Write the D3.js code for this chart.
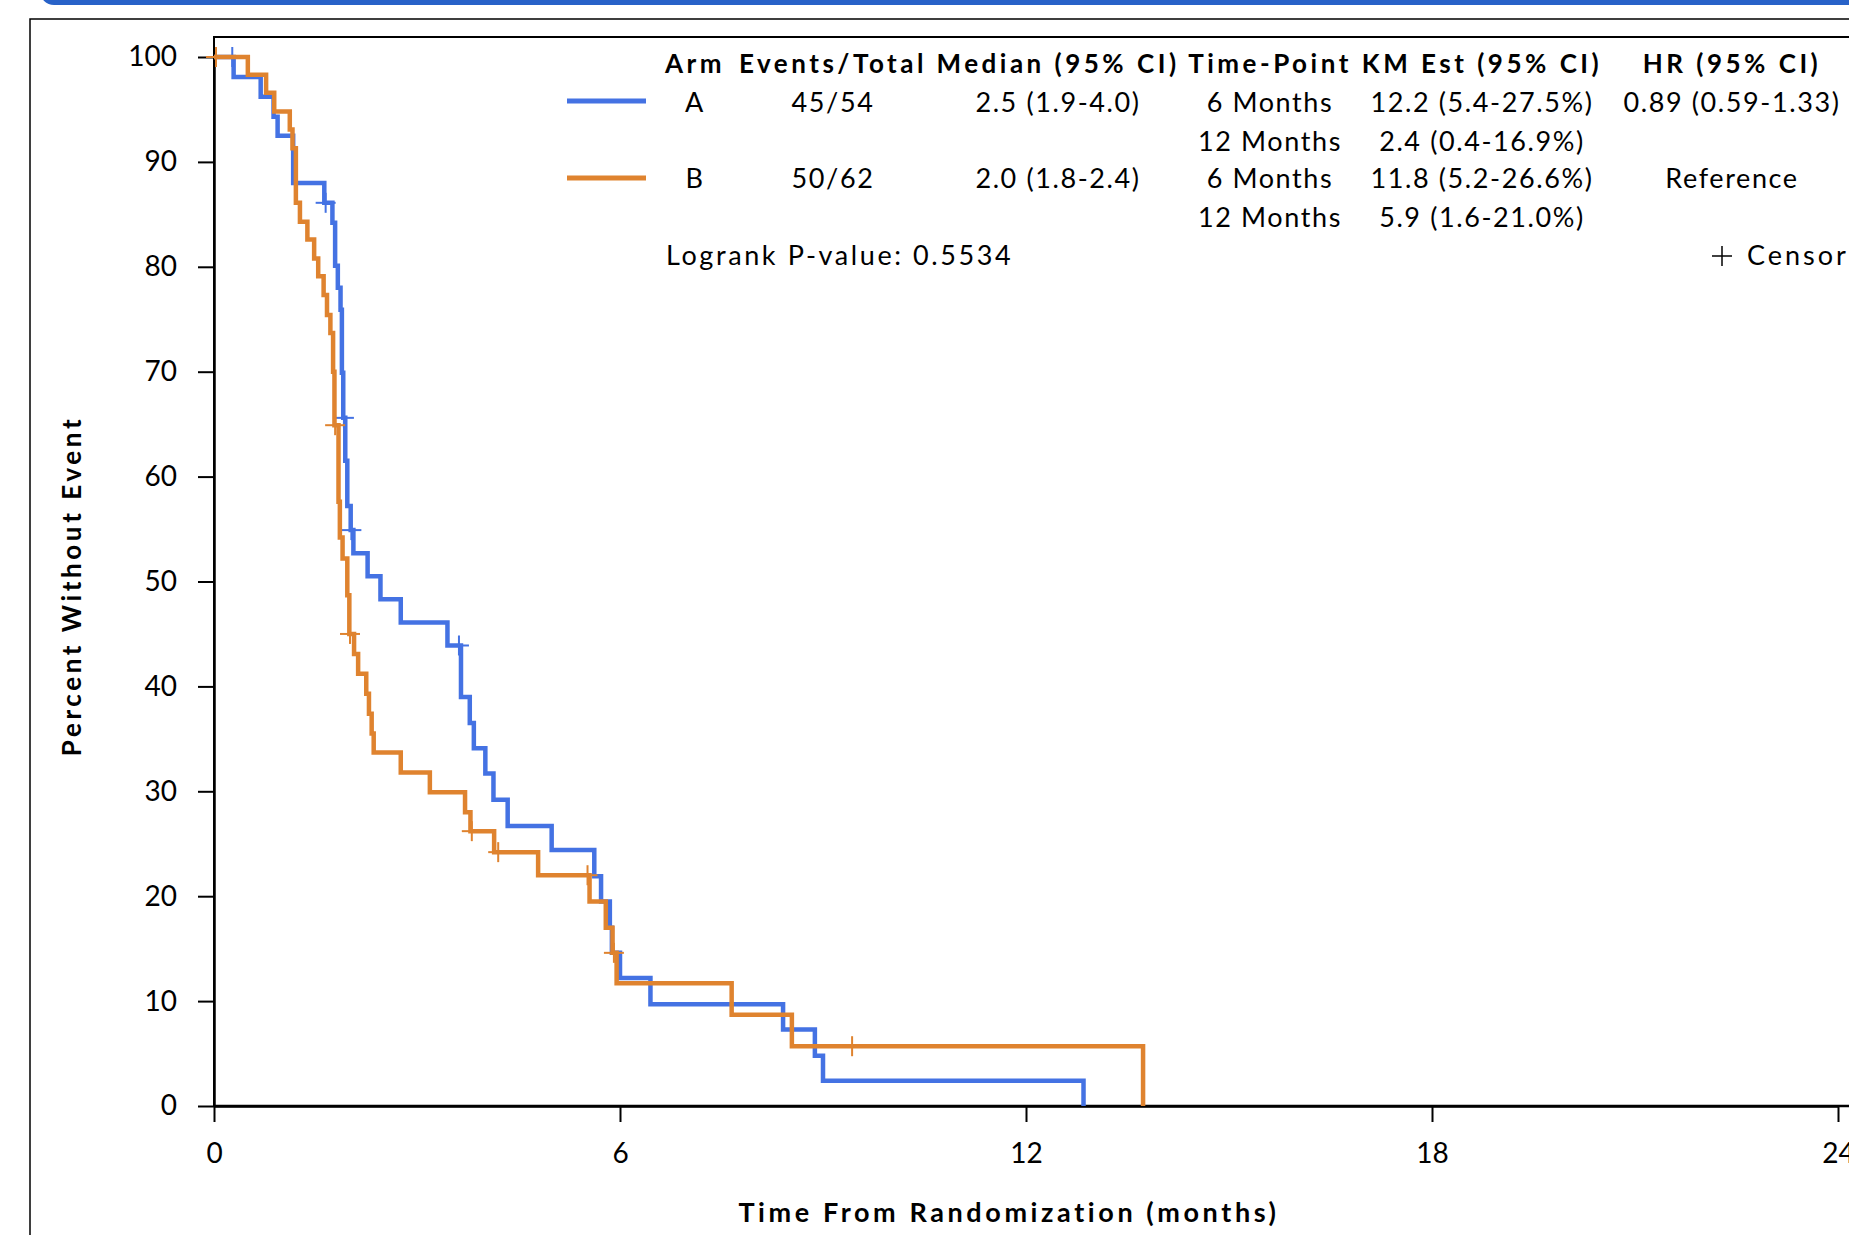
<!DOCTYPE html>
<html>
<head>
<meta charset="utf-8">
<script src="https://cdn.jsdelivr.net/npm/d3@7"></script>
<style>
body { margin:0; background:#ffffff; overflow:hidden; }
text { font-family: Lato, "Open Sans", sans-serif; fill:#000; }
</style>
</head>
<body>
<svg id="km"></svg>
<script>
// arm A (blue) step points: time in months, percent without event
var armATimes = [0, 0.29, 0.69, 0.88, 0.94, 1.17, 1.63, 1.75, 1.79, 1.83, 1.87, 1.89, 1.91, 1.94, 1.97,
    2.02, 2.06, 2.27, 2.46, 2.76, 3.45, 3.65, 3.78, 3.84, 4.01, 4.13, 4.34, 4.99, 5.62, 5.72,
    5.85, 5.88, 6.00, 6.45, 8.41, 8.88, 9.00, 12.85]
var armAValues = [100, 98.1, 96.2, 94.3, 92.5, 88.0, 86.1, 84.2, 80.1, 78.0, 75.9, 69.9, 65.6, 61.5, 57.2,
    54.9, 52.7, 50.5, 48.3, 46.1, 43.9, 39.0, 36.5, 34.1, 31.7, 29.2, 26.7, 24.4, 21.9, 19.5,
    17.0, 14.6, 12.2, 9.7, 7.3, 4.8, 2.4, 0]
var armACensorTimes = [0.27, 1.65, 1.92, 2.03, 3.62]
var armACensorValues = [100, 86.1, 65.6, 54.9, 43.9]

// arm B (orange)
var armBTimes = [0, 0.50, 0.77, 0.89, 1.12, 1.16, 1.21, 1.27, 1.38, 1.48, 1.54, 1.62, 1.67, 1.72, 1.76,
    1.78, 1.84, 1.86, 1.90, 1.97, 2.00, 2.07, 2.13, 2.25, 2.29, 2.33, 2.36, 2.76, 3.19, 3.71,
    3.79, 4.14, 4.79, 5.55, 5.79, 5.89, 5.95, 7.65, 8.54, 13.73]
var armBValues = [100, 98.3, 96.6, 94.8, 93.1, 91.3, 86.1, 84.3, 82.6, 80.8, 79.1, 77.3, 75.4, 73.7, 70.0,
    64.9, 57.6, 54.2, 52.2, 48.7, 45.0, 43.1, 41.2, 39.3, 37.4, 35.5, 33.7, 31.8, 29.9, 28.0,
    26.2, 24.2, 22.0, 19.5, 17.0, 14.6, 11.7, 8.7, 5.7, 0]
var armBCensorTimes = [0.03, 1.79, 2.01, 3.81, 4.20, 5.52, 5.91, 9.43]
var armBCensorValues = [100, 64.9, 45.0, 26.2, 24.2, 22.0, 14.6, 5.7]

var xTicks = [0, 6, 12, 18, 24]
var yTicks = [0, 10, 20, 30, 40, 50, 60, 70, 80, 90, 100]

var tableHeader = ["Arm", "Events/Total", "Median (95% CI)", "Time-Point", "KM Est (95% CI)", "HR (95% CI)"]
var tableRows = [
    ["A", "45/54", "2.5 (1.9-4.0)", "6 Months", "12.2 (5.4-27.5%)", "0.89 (0.59-1.33)"],
    ["", "", "", "12 Months", "2.4 (0.4-16.9%)", ""],
    ["B", "50/62", "2.0 (1.8-2.4)", "6 Months", "11.8 (5.2-26.6%)", "Reference"],
    ["", "", "", "12 Months", "5.9 (1.6-21.0%)", ""]
]
var logrankLabel = "Logrank P-value: 0.5534"
var censorLabel = "Censor"
var xTitle = "Time From Randomization (months)"
var yTitle = "Percent Without Event"

var blue = "#4472e3"
var orange = "#df832f"

var makePoints = function(times, values)
{
    return times.map(function(t, i) { return {t: t, v: values[i]} })
}

var drawCurve = function(svg, xScale, yScale, times, values, ctimes, cvalues, color)
{
    var lineGenerator = d3.line()
        .curve(d3.curveStepAfter)
        .x(function(d) { return xScale(d.t) })
        .y(function(d) { return yScale(d.v) })

    svg.append("path")
        .datum(makePoints(times, values))
        .attr("d", lineGenerator)
        .attr("fill", "none")
        .attr("stroke", color)
        .attr("stroke-width", 4.5)

    var marks = svg.append("g")
        .selectAll("g")
        .data(makePoints(ctimes, cvalues))
        .enter()
        .append("g")
        .attr("transform", function(d) { return "translate(" + xScale(d.t) + "," + yScale(d.v) + ")" })
    marks.append("line")
        .attr("x1", -10).attr("x2", 10)
        .attr("stroke", color).attr("stroke-width", 2)
    marks.append("line")
        .attr("y1", -10).attr("y2", 10)
        .attr("stroke", color).attr("stroke-width", 2)
}

var drawTable = function(svg)
{
    var colX = [695, 833, 1058, 1270, 1482, 1732]
    var rowY = [112, 151, 188, 227]

    svg.append("g")
        .selectAll("text")
        .data(tableHeader)
        .enter()
        .append("text")
        .attr("x", function(d, i) { return colX[i] })
        .attr("y", 73)
        .attr("text-anchor", "middle")
        .attr("font-size", 26)
        .attr("font-weight", "bold")
        .attr("letter-spacing", 3.5)
        .text(function(d) { return d })

    tableRows.forEach(function(row, r)
    {
        svg.append("g")
            .selectAll("text")
            .data(row)
            .enter()
            .append("text")
            .attr("x", function(d, i) { return colX[i] })
            .attr("y", rowY[r])
            .attr("text-anchor", "middle")
            .attr("font-size", 27)
            .attr("letter-spacing", 1.6)
            .text(function(d) { return d })
    })

    svg.append("line")
        .attr("x1", 567).attr("x2", 646).attr("y1", 101).attr("y2", 101)
        .attr("stroke", blue).attr("stroke-width", 5)
    svg.append("line")
        .attr("x1", 567).attr("x2", 646).attr("y1", 178).attr("y2", 178)
        .attr("stroke", orange).attr("stroke-width", 5)

    svg.append("text")
        .attr("x", 666).attr("y", 265)
        .attr("font-size", 27)
        .attr("letter-spacing", 2.6)
        .text(logrankLabel)

    svg.append("line")
        .attr("x1", 1712).attr("x2", 1732).attr("y1", 256).attr("y2", 256)
        .attr("stroke", "#000").attr("stroke-width", 1.5)
    svg.append("line")
        .attr("x1", 1722).attr("x2", 1722).attr("y1", 246).attr("y2", 266)
        .attr("stroke", "#000").attr("stroke-width", 1.5)
    svg.append("text")
        .attr("x", 1747).attr("y", 265)
        .attr("font-size", 27)
        .attr("letter-spacing", 3)
        .text(censorLabel)
}

var displayKM = function(target)
{
    var screen = {width: 1849, height: 1235}
    var plot = {left: 214, right: 1838, top: 57, bottom: 1106}

    var svg = d3.select(target)
        .attr("width", screen.width)
        .attr("height", screen.height)

    svg.append("rect")
        .attr("width", screen.width).attr("height", screen.height)
        .attr("fill", "#fff")

    // blue band and outer frame
    svg.append("rect")
        .attr("x", 40).attr("y", -40)
        .attr("width", 1900).attr("height", 45)
        .attr("rx", 14)
        .attr("fill", "#2862c8")
    svg.append("path")
        .attr("d", "M30,1240 V19 H1860")
        .attr("fill", "none")
        .attr("stroke", "#000")
        .attr("stroke-width", 1.5)

    var xScale = d3.scaleLinear()
        .domain([0, 24])
        .range([plot.left, plot.right])
    var yScale = d3.scaleLinear()
        .domain([0, 100])
        .range([plot.bottom, plot.top])

    // plot frame
    svg.append("path")
        .attr("d", "M" + plot.left + "," + plot.bottom + " V37 H1860")
        .attr("fill", "none")
        .attr("stroke", "#000")
        .attr("stroke-width", 2)
    svg.append("line")
        .attr("x1", plot.left).attr("x2", 1860)
        .attr("y1", plot.bottom).attr("y2", plot.bottom)
        .attr("stroke", "#000").attr("stroke-width", 2.5)

    var xAxis = d3.axisBottom(xScale)
        .tickValues(xTicks)
        .tickSize(16)
        .tickSizeOuter(0)
        .tickPadding(21)
    var yAxis = d3.axisLeft(yScale)
        .tickValues(yTicks)
        .tickSize(16)
        .tickSizeOuter(0)
        .tickPadding(21)

    var gx = svg.append("g")
        .attr("transform", "translate(0," + plot.bottom + ")")
        .call(xAxis)
    var gy = svg.append("g")
        .attr("transform", "translate(" + plot.left + ",0)")
        .call(yAxis)

    ;[gx, gy].forEach(function(g)
    {
        g.select(".domain").attr("stroke", "#000").attr("stroke-width", 2.5)
        g.selectAll(".tick line").attr("stroke", "#000").attr("stroke-width", 2)
        g.selectAll(".tick text")
            .attr("fill", "#000")
            .attr("font-size", 28)
            .attr("font-family", "Lato, 'Open Sans', sans-serif")
    })

    drawCurve(svg, xScale, yScale, armATimes, armAValues, armACensorTimes, armACensorValues, blue)
    drawCurve(svg, xScale, yScale, armBTimes, armBValues, armBCensorTimes, armBCensorValues, orange)

    svg.append("text")
        .attr("x", 1009).attr("y", 1222)
        .attr("text-anchor", "middle")
        .attr("font-size", 27)
        .attr("font-weight", "bold")
        .attr("letter-spacing", 3.6)
        .text(xTitle)

    svg.append("text")
        .attr("transform", "translate(81,586) rotate(-90)")
        .attr("text-anchor", "middle")
        .attr("font-size", 26)
        .attr("font-weight", "bold")
        .attr("letter-spacing", 3.6)
        .text(yTitle)

    drawTable(svg)
}

displayKM("#km")
</script>
</body>
</html>
